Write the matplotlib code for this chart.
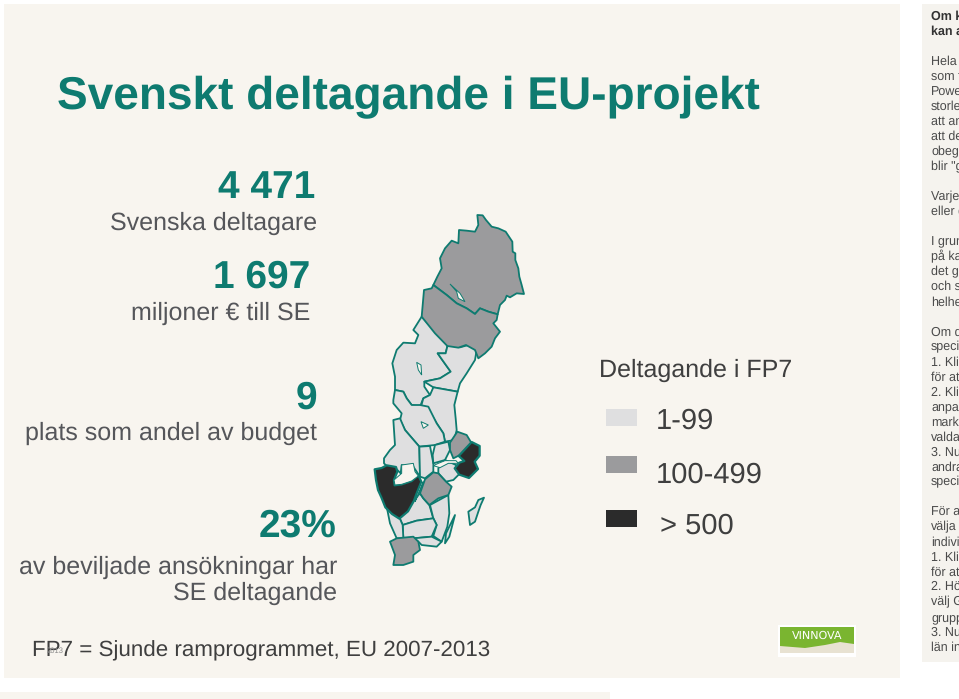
#!/usr/bin/env python3
"""Slide: Svenskt deltagande i EU-projekt, with county map of Sweden."""

import matplotlib
matplotlib.use('Agg')
import matplotlib.pyplot as plt
from matplotlib.patches import Polygon, Rectangle

plt.rcParams['font.family'] = ['Liberation Sans', 'DejaVu Sans']
plt.rcParams['text.hinting'] = 'no_hinting'

W, H = 959, 699
BG = '#f8f5ef'
TEAL = '#0e7b70'
TEXT = '#55565a'
DARK = '#3f3f3f'
C_LOW = '#dfdfe0'
C_MID = '#9b9b9d'
C_HIGH = '#2b2b2b'

# ─── Stats ────────────────────────────────────────────────────

TITLE = 'Svenskt deltagande i EU-projekt'
STAT_VALUES = ['4 471', '1 697', '9', '23%']
STAT_RIGHT = [315, 310, 317, 336]
STAT_BASE = [198, 288, 409, 537]
STAT_CAPTIONS = ['Svenska deltagare', 'miljoner € till SE',
                 'plats som andel av budget',
                 'av beviljade ansökningar har\nSE deltagande']
CAPTION_RIGHT = [317, 310, 317, 337]
CAPTION_BASE = [230, 320, 440, 600]
FOOTNOTE = 'FP7 = Sjunde ramprogrammet, EU 2007-2013'

LEGEND_TITLE = 'Deltagande i FP7'
LEGEND_LABELS = ['1-99', '100-499', '> 500']
LEGEND_COLORS = [C_LOW, C_MID, C_HIGH]

SIDE_LINES = ['Om kartan', 'kan anpassas', None, 'Hela kartan', 'som finns', 'PowerPoint',
              'storlek', 'att anpassa', 'att det', 'obegränsat', 'blir "grå"', None,
              'Varje län', 'eller grupp', None, 'I grunden', 'på kartan', 'det går',
              'och så', 'helheten', None, 'Om du', 'specifikt', '1. Klicka', 'för att',
              '2. Klicka', 'anpassa', 'markera', 'valda', '3. Nu', 'andra', 'specifikt',
              None, 'För att', 'välja', 'individuellt', '1. Klicka', 'för att',
              '2. Högerklicka', 'välj Gruppera', 'gruppen', '3. Nu', 'län in']

# ─── Map outlines ─────────────────────────────────────────────
# read off crops of the map, so each part has its own offset

def mid(pts):
    return [(x + 75, y + 330) for x, y in pts]

def south(pts):
    return [(x + 30, y + 690) for x, y in pts]

NORRBOTTEN = [(352, 45), (368, 46), (378, 60), (395, 80), (415, 85), (437, 95), (447, 110),
              (457, 125), (458, 155), (466, 160), (466, 180), (475, 205), (478, 230), (485, 255),
              (492, 282), (470, 280), (450, 292), (440, 287), (435, 300), (420, 315), (413, 343),
              (385, 335), (360, 325), (345, 342), (320, 325), (290, 310), (260, 285), (220, 255),
              (232, 230), (245, 205), (240, 175), (255, 145), (275, 122), (295, 130), (297, 90),
              (320, 92), (345, 95), (355, 75)]
VASTERBOTTEN = [(220, 255), (260, 285), (290, 310), (320, 325), (345, 342), (360, 325),
                (385, 335), (413, 343), (410, 360), (400, 370), (412, 385), (420, 395), (405, 415),
                (395, 440), (375, 460), (355, 475), (345, 450), (318, 435), (295, 443), (262, 438),
                (225, 400), (185, 350), (192, 270), (215, 265)]
JAMTLAND = mid([(110, 20), (85, 60), (100, 75), (90, 100), (55, 98), (35, 120), (22, 160), (30, 200),
                (30, 240), (55, 245), (65, 265), (80, 285), (105, 290), (115, 265), (135, 255),
                (118, 230), (118, 215), (165, 205), (197, 185), (172, 150), (158, 130), (182, 130),
                (188, 105)])
VASTERNORRLAND = mid([(188, 105), (225, 112), (250, 105), (275, 120), (270, 150), (245, 190),
                      (225, 220), (218, 245), (145, 232), (118, 215), (165, 205), (197, 185),
                      (172, 150), (158, 130), (182, 130)])
GAVLEBORG = mid([(145, 232), (218, 245), (208, 285), (212, 325), (215, 360), (208, 390), (180, 395),
                 (175, 370), (155, 340), (130, 298), (108, 290), (115, 265), (135, 255)])
DALARNA = [(105, 570), (130, 575), (140, 595), (155, 615), (180, 615), (205, 620), (230, 670),
           (250, 700), (255, 725), (225, 735), (178, 740), (135, 690), (120, 660), (125, 640),
           (100, 610), (100, 600)]
VARMLAND = south([(70, -30), (90, -35), (105, 0), (148, 50), (150, 140), (130, 110), (95, 105),
                  (92, 130), (75, 113), (50, 108), (42, 100), (42, 85), (60, 60), (75, 45)])
VASTRA_GOTALAND = south([(14, 118), (35, 114), (50, 106), (78, 111), (82, 125), (72, 150), (74, 166),
                         (95, 163), (125, 153), (145, 136), (154, 155), (140, 190), (132, 212),
                         (114, 244), (88, 266), (66, 252), (46, 232), (34, 202), (24, 180), (18, 150)])
OREBRO = south([(148, 50), (180, 48), (190, 100), (190, 125), (165, 145), (150, 140)])
VASTMANLAND = south([(195, 45), (235, 35), (240, 60), (225, 90), (190, 100), (188, 75)])
UPPSALA = south([(240, 38), (262, 5), (290, 15), (305, 40), (270, 75), (250, 85), (240, 60)])
STOCKHOLM = south([(305, 36), (329, 48), (329, 77), (314, 95), (324, 117), (297, 144), (268, 134),
                   (254, 115), (268, 98), (283, 93), (266, 78)])
SODERMANLAND = south([(205, 115), (225, 90), (258, 105), (262, 125), (270, 130), (250, 150),
                      (228, 155), (205, 130)])
OSTERGOTLAND = south([(150, 190), (165, 148), (190, 127), (205, 130), (228, 155), (245, 170),
                      (235, 195), (205, 205), (178, 225), (160, 205)])
JONKOPING = south([(98, 285), (88, 262), (110, 240), (128, 215), (150, 190), (160, 205), (178, 225),
                   (190, 265), (140, 272)])
KALMAR = south([(180, 225), (235, 195), (238, 250), (232, 290), (215, 335), (190, 318), (200, 285),
                (190, 265)])
KRONOBERG = south([(98, 285), (140, 272), (190, 265), (200, 285), (185, 320), (130, 325), (100, 325)])
HALLAND = south([(50, 230), (88, 262), (98, 285), (100, 325), (80, 325), (60, 280)])
BLEKINGE = south([(130, 325), (185, 320), (215, 335), (200, 350), (155, 345), (145, 335)])
SKANE = south([(60, 335), (80, 325), (130, 320), (145, 335), (150, 360), (130, 375), (130, 395),
               (100, 405), (70, 405), (75, 375)])
OLAND = south([(255, 255), (238, 320), (225, 340), (228, 310)])
GOTLAND = south([(342, 203), (325, 210), (315, 232), (295, 245), (300, 285), (315, 275), (325, 245),
                 (332, 225)])

LOW_REGIONS = [JAMTLAND, VASTERNORRLAND, GAVLEBORG, DALARNA, VARMLAND, OREBRO, VASTMANLAND,
               SODERMANLAND, JONKOPING, KALMAR, KRONOBERG, HALLAND, BLEKINGE, OLAND, GOTLAND]
MID_REGIONS = [NORRBOTTEN, VASTERBOTTEN, UPPSALA, OSTERGOTLAND, SKANE]
HIGH_REGIONS = [VASTRA_GOTALAND, STOCKHOLM]

LAKES = [south([(72, 150), (95, 130), (95, 105), (130, 100), (135, 125), (145, 138), (125, 153),
                (95, 163), (75, 165)]),
         south([(160, 155), (150, 185), (135, 215), (145, 190)]),
         south([(190, 107), (205, 100), (225, 92), (258, 92), (265, 100), (235, 100), (210, 113)]),
         [(270, 252), (300, 280), (315, 305), (295, 295), (290, 275)],
         [(183, 665), (205, 675), (190, 685)],
         [(170, 487), (183, 495), (185, 525), (175, 510)]]

# ─── Page ─────────────────────────────────────────────────────

fig = plt.figure(figsize=(W / 100, H / 100), dpi=100, facecolor='white')
ax = fig.add_axes([0, 0, 1, 1])
ax.set_xlim(0, W)
ax.set_ylim(H, 0)
ax.axis('off')

ax.add_patch(Rectangle((4, 4), 896, 674, color=BG, lw=0))
ax.add_patch(Rectangle((0, 692), 610, 7, color=BG, lw=0))
ax.add_patch(Rectangle((922, 4), 37, 658, color='#f5f3ee', lw=0))

ax.text(57, 109, TITLE, fontsize=33.1, fontweight='bold', color=TEAL, ha='left', va='baseline')

for val, right, base in zip(STAT_VALUES, STAT_RIGHT, STAT_BASE):
    ax.text(right, base, val, fontsize=28, fontweight='bold', color=TEAL, ha='right', va='baseline')
for cap, right, base in zip(STAT_CAPTIONS, CAPTION_RIGHT, CAPTION_BASE):
    ax.text(right, base, cap, fontsize=18, color=TEXT, ha='right', va='baseline', linespacing=1.15)

ax.text(32, 656, FOOTNOTE, fontsize=16.1, color=DARK, ha='left', va='baseline')
ax.text(55, 653, '2013', fontsize=5.5, color='#8a8a8a', ha='center', va='baseline')

# legend
ax.text(599, 377, LEGEND_TITLE, fontsize=18, color=DARK, ha='left', va='baseline')
legend_y = [409, 456, 510]
legend_tx = [656, 656, 660]
legend_base = [429, 483, 534]
for lab, col, y, tx, base in zip(LEGEND_LABELS, LEGEND_COLORS, legend_y, legend_tx, legend_base):
    ax.add_patch(Rectangle((606, y), 31, 17, color=col, lw=0))
    ax.text(tx, base, lab, fontsize=21, color=DARK, ha='left', va='baseline')

# logo
ax.add_patch(Rectangle((778, 625), 78, 32, color='white', lw=0))
ax.add_patch(Rectangle((780, 627), 74, 26, color='#e8e2d2', lw=0))
ax.add_patch(Polygon([(780, 627), (854, 627), (854, 644), (840, 642), (825, 645), (805, 648),
                      (780, 646)], closed=True, color='#7ab530', lw=0))
ax.text(817, 636, 'VINNOVA', fontsize=8, family='DejaVu Sans', color='white', ha='center', va='center')

# side panel text, runs off the page edge
for i, line in enumerate(SIDE_LINES):
    if line is None:
        continue
    bold = i < 2
    ax.text(931, 20 + i * 15.02, line, fontsize=9, color='#333333' if bold else '#4a4a4a',
            fontweight='bold' if bold else 'normal', ha='left', va='baseline', clip_on=True)

# ─── Map ──────────────────────────────────────────────────────

map_ax = fig.add_axes([360 / W, 1 - 570 / H, 180 / W, 370 / H])
map_ax.set_xlim(0, 540)
map_ax.set_ylim(1110, 0)
map_ax.axis('off')

for regions, col, lw in ((LOW_REGIONS, C_LOW, 1.3), (MID_REGIONS, C_MID, 1.3), (HIGH_REGIONS, C_HIGH, 1.6)):
    for pts in regions:
        map_ax.add_patch(Polygon(pts, closed=True, facecolor=col, edgecolor=TEAL, lw=lw, joinstyle='round'))
for pts in LAKES:
    map_ax.add_patch(Polygon(pts, closed=True, facecolor=BG, edgecolor=TEAL, lw=0.7))

fig.savefig('out.png', dpi=100, facecolor='white')
